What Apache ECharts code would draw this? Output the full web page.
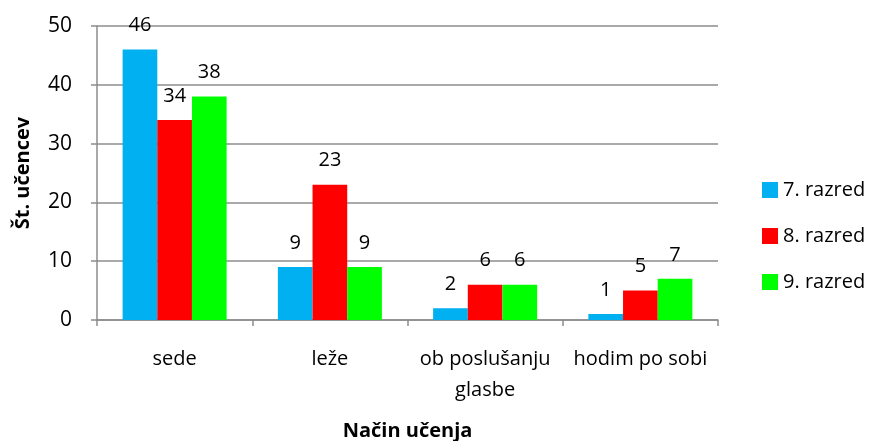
<!DOCTYPE html>
<html><head><meta charset="utf-8">
<script src="https://cdn.jsdelivr.net/npm/echarts@6/dist/echarts.min.js"></script>
<style>html,body{margin:0;padding:0;background:#fff}#c{width:878px;height:441px}</style>
</head><body><div id="c"></div>
<script>
const categories = ['sede', 'leže', 'ob poslušanju\nglasbe', 'hodim po sobi'];
const seriesNames = ['7. razred', '8. razred', '9. razred'];
const razred7 = [46, 9, 2, 1];
const razred8 = [34, 23, 6, 5];
const razred9 = [38, 9, 6, 7];
const colors = ['#00B0F0', '#FF0000', '#00FF00'];
const FONT = '"Open Sans", "Noto Sans", sans-serif';

const chart = echarts.init(document.getElementById('c'), null, {renderer: 'canvas'});
const mk = (name, data, color) => ({
  name, type: 'bar', data, barGap: '0%', barCategoryGap: '33%',
  itemStyle: {color},
  label: {show: true, position: 'top', distance: 14, color: '#000', fontSize: 20, fontFamily: FONT},
  animation: false
});
chart.setOption({
  animation: false,
  textStyle: {fontFamily: FONT},
  grid: {left: 97, right: 160, top: 26, bottom: 121, containLabel: false, outerBoundsMode: 'none'},
  legend: {
    orient: 'vertical', left: 757, top: 175, itemGap: 26, itemWidth: 16, itemHeight: 16,
    icon: 'rect', textStyle: {fontSize: 20, color: '#000', fontFamily: FONT},
    data: seriesNames
  },
  xAxis: {
    type: 'category', data: categories,
    name: 'Način učenja', nameLocation: 'middle', nameGap: 101,
    nameTextStyle: {fontSize: 20, fontWeight: 'bold', color: '#000', fontFamily: FONT},
    axisLine: {lineStyle: {color: '#8c8c8c', width: 1.5}},
    axisTick: {show: true, length: 6, lineStyle: {color: '#8c8c8c', width: 1.5}},
    axisLabel: {interval: 0, fontSize: 20, color: '#000', margin: 24, lineHeight: 31, fontFamily: FONT}
  },
  yAxis: {
    type: 'value', min: 0, max: 50, interval: 10,
    name: 'Št. učencev', nameLocation: 'middle', nameGap: 64, nameRotate: 90,
    nameTextStyle: {fontSize: 20, fontWeight: 'bold', color: '#000', fontFamily: FONT},
    axisLine: {show: true, lineStyle: {color: '#8c8c8c', width: 1.5}},
    axisTick: {show: true, length: 6, lineStyle: {color: '#8c8c8c', width: 1.5}},
    splitLine: {lineStyle: {color: '#8c8c8c', width: 1.5}},
    axisLabel: {fontSize: 21, color: '#000', margin: 25, fontFamily: FONT}
  },
  series: [mk(seriesNames[0], razred7, colors[0]), mk(seriesNames[1], razred8, colors[1]), mk(seriesNames[2], razred9, colors[2])]
});
</script></body></html>
